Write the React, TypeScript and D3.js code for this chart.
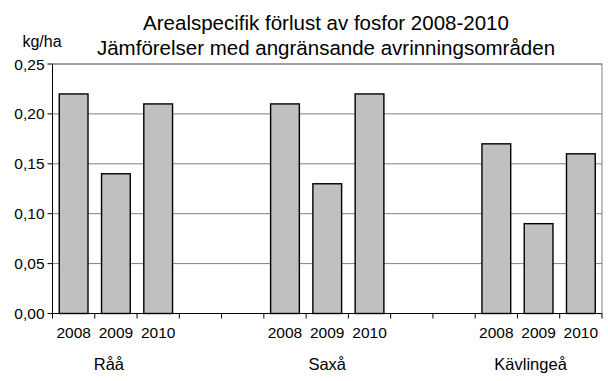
import React from "react";
import * as d3 from "d3";

const rivers = ["Råå", "Saxå", "Kävlingeå"];
const years = ["2008", "2009", "2010"];
const raaValues = [0.22, 0.14, 0.21];
const saxaValues = [0.21, 0.13, 0.22];
const kavlingeaValues = [0.17, 0.09, 0.16];
const yTicks = [0, 0.05, 0.1, 0.15, 0.2, 0.25];
const titleLines = [
  "Arealspecifik förlust av fosfor 2008-2010",
  "Jämförelser med angränsande avrinningsområden",
];
const yUnit = "kg/ha";

const seriesByRiver = [raaValues, saxaValues, kavlingeaValues];
const gapSlots = 2;

type Slot = { key: string; river: string | null; year: string | null; value: number | null };
const slots: Slot[] = [];
rivers.forEach((r, ri) => {
  years.forEach((y, yi) => {
    slots.push({ key: `${r}-${y}`, river: r, year: y, value: seriesByRiver[ri][yi] });
  });
  if (ri < rivers.length - 1) {
    for (let g = 0; g < gapSlots; g++) slots.push({ key: `gap-${ri}-${g}`, river: null, year: null, value: null });
  }
});

const W = 608;
const H = 381;
const M = { left: 52.5, right: 6, top: 64, bottom: 67.5 };
const FONT = "'Liberation Sans', Arial, sans-serif";
const groupLabelShift = [-7, 0, -8];

export default function App() {
  const x = d3
    .scaleBand<string>()
    .domain(slots.map((s) => s.key))
    .range([M.left, W - M.right])
    .paddingInner(0.32)
    .paddingOuter(0.16);
  const y = d3.scaleLinear().domain([0, 0.25]).range([H - M.bottom, M.top]);
  const fmt = (v: number) => d3.format(".2f")(v).replace(".", ",");
  const slotW = (W - M.right - M.left) / slots.length;
  const slotStart = (i: number) => M.left + i * slotW;
  const y0 = y(0);

  return (
    <svg width={W} height={H} style={{ position: "absolute", left: 0, top: 0, background: "#fff" }} fontFamily={FONT}>
      <rect x={0} y={0} width={W} height={H} fill="#fff" />
      {titleLines.map((t, i) => (
        <text key={i} x={326} y={30 + i * 24.5} textAnchor="middle" fontSize={20.5} fill="#000">
          {t}
        </text>
      ))}
      <text x={42} y={47} textAnchor="middle" fontSize={16} fill="#000">
        {yUnit}
      </text>
      {yTicks.map((t) => (
        <line key={t} x1={M.left} x2={W - M.right} y1={y(t)} y2={y(t)} stroke="#808080" strokeWidth={1} />
      ))}
      <rect x={M.left} y={M.top} width={W - M.right - M.left} height={y0 - M.top} fill="none" stroke="#808080" strokeWidth={1} />
      {slots.map((s) =>
        s.value == null ? null : (
          <rect
            key={s.key}
            x={x(s.key)!}
            y={y(s.value)}
            width={x.bandwidth()}
            height={y0 - y(s.value)}
            fill="#c0c0c0"
            stroke="#000"
            strokeWidth={1.4}
          />
        )
      )}
      <line x1={M.left} x2={M.left} y1={M.top} y2={y0} stroke="#000" strokeWidth={1} />
      <line x1={M.left} x2={W - M.right} y1={y0} y2={y0} stroke="#000" strokeWidth={1} />
      {yTicks.map((t) => (
        <g key={t}>
          <line x1={M.left - 5} x2={M.left} y1={y(t)} y2={y(t)} stroke="#000" />
          <text x={M.left - 8} y={y(t) + 5.5} textAnchor="end" fontSize={15.5} fill="#000">
            {fmt(t)}
          </text>
        </g>
      ))}
      {d3.range(slots.length + 1).map((i) => (
        <line key={i} x1={slotStart(i)} x2={slotStart(i)} y1={y0} y2={y0 + 5} stroke="#000" />
      ))}
      {slots.map((s, i) =>
        s.year ? (
          <text key={s.key} x={slotStart(i) + slotW / 2} y={y0 + 24} textAnchor="middle" fontSize={15.5} fill="#000">
            {s.year}
          </text>
        ) : null
      )}
      {rivers.map((r, ri) => {
        const idx = slots.findIndex((s) => s.river === r && s.year === years[1]);
        return (
          <text
            key={r}
            x={slotStart(idx) + slotW / 2 + groupLabelShift[ri]}
            y={y0 + 56}
            textAnchor="middle"
            fontSize={16.5}
            fill="#000"
          >
            {r}
          </text>
        );
      })}
    </svg>
  );
}
